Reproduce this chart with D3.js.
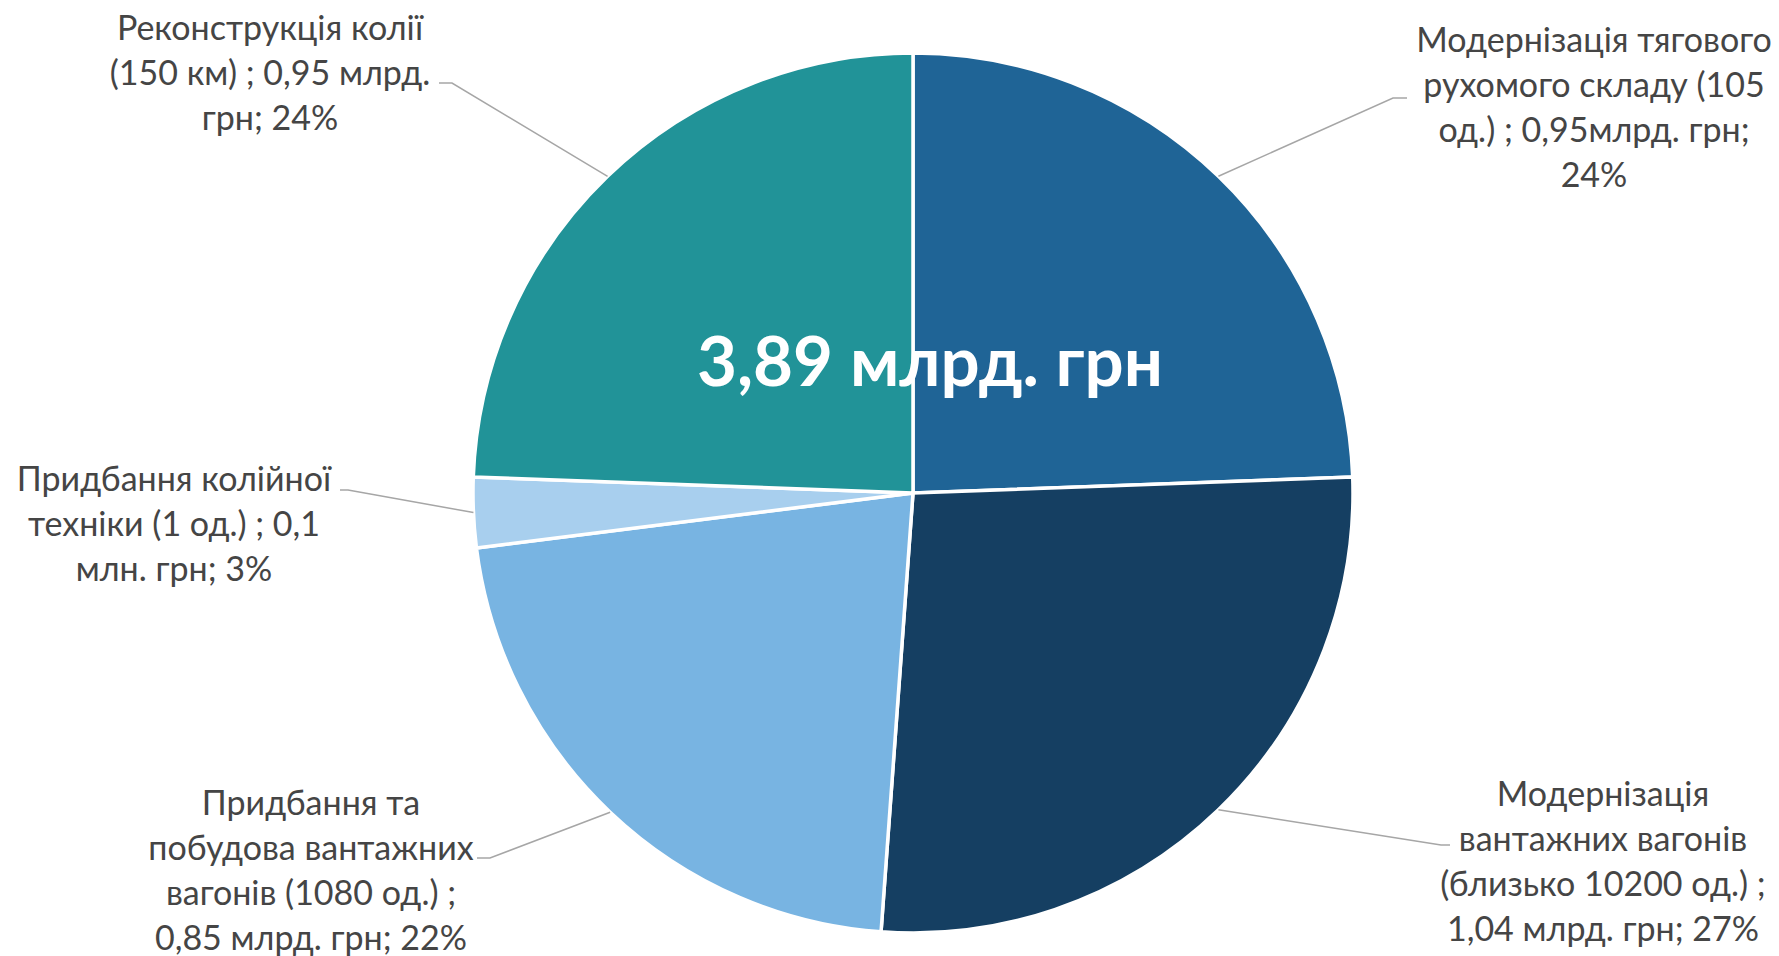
<!DOCTYPE html>
<html>
<head>
<meta charset="utf-8">
<script src="https://cdn.jsdelivr.net/npm/d3@7"></script>
<style>
  html, body { margin: 0; padding: 0; background: #ffffff; }
  svg { display: block; }
</style>
</head>
<body>
<svg id="chart" width="1779" height="956"></svg>
<script>
// ---- data ----
const categories = [
  "Модернізація тягового рухомого складу",
  "Модернізація вантажних вагонів",
  "Придбання та побудова вантажних вагонів",
  "Придбання колійної техніки",
  "Реконструкція колії"
];
const values = [0.95, 1.04, 0.85, 0.10, 0.95];
const labelLines = [
  ["Модернізація тягового", "рухомого складу (105", "од.) ; 0,95млрд. грн;", "24%"],
  ["Модернізація", "вантажних вагонів", "(близько 10200 од.) ;", "1,04 млрд. грн; 27%"],
  ["Придбання та", "побудова вантажних", "вагонів (1080 од.) ;", "0,85 млрд. грн; 22%"],
  ["Придбання колійної", "техніки (1 од.) ; 0,1", "млн. грн; 3%"],
  ["Реконструкція колії", "(150 км) ; 0,95 млрд.", "грн; 24%"]
];
const colors = ["#1F6496", "#153F62", "#78B4E2", "#A8CFEE", "#219398"];
const centerTitle = "3,89 млрд. грн";

// ---- layout ----
const W = 1779, H = 956;
const cx = 913, cy = 493, R = 440;
const fontFam = "Lato, 'Open Sans', sans-serif";
const lineH = 45;
// label text block: center x, first baseline y; leader elbow and end points
const labelLayout = [
  { x: 1594, y: 52,  elbow: [1393, 98],  end: [1407, 98] },
  { x: 1603, y: 806, elbow: [1441, 845], end: [1450, 845] },
  { x: 311,  y: 815, elbow: [490, 858],  end: [477, 858] },
  { x: 174,  y: 491, elbow: [348, 490],  end: [340, 490] },
  { x: 270,  y: 40,  elbow: [452, 83],   end: [439, 83] }
];

const svg = d3.select("#chart");
const g = svg.append("g").attr("transform", `translate(${cx},${cy})`);

const pie = d3.pie().sort(null).value(d => d).startAngle(0).endAngle(2 * Math.PI);
const arcs = pie(values);
const arc = d3.arc().innerRadius(0).outerRadius(R);

g.selectAll("path.slice")
  .data(arcs)
  .enter().append("path")
  .attr("class", "slice")
  .attr("d", arc)
  .attr("fill", (d, i) => colors[i])
  .attr("stroke", "#ffffff")
  .attr("stroke-width", 3.5)
  .attr("stroke-linejoin", "round");

// leader lines
svg.selectAll("polyline.leader")
  .data(arcs)
  .enter().append("polyline")
  .attr("class", "leader")
  .attr("fill", "none")
  .attr("stroke", "#A6A6A6")
  .attr("stroke-width", 1.5)
  .attr("points", (d, i) => {
    const a = (d.startAngle + d.endAngle) / 2;
    const p = [cx + R * Math.sin(a), cy - R * Math.cos(a)];
    const L = labelLayout[i];
    return [p, L.elbow, L.end].map(q => q.join(",")).join(" ");
  });

// labels
const labels = svg.selectAll("text.lbl")
  .data(labelLines)
  .enter().append("text")
  .attr("class", "lbl")
  .attr("text-anchor", "middle")
  .attr("font-family", fontFam)
  .attr("font-size", 34)
  .attr("fill", "#454545");
labels.each(function(lines, i) {
  const L = labelLayout[i];
  d3.select(this).selectAll("tspan")
    .data(lines)
    .enter().append("tspan")
    .attr("x", L.x)
    .attr("y", (t, j) => L.y + j * lineH)
    .text(t => t);
});

// center title
svg.append("text")
  .attr("x", cx + 17)
  .attr("y", cy - 107)
  .attr("text-anchor", "middle")
  .attr("font-family", fontFam)
  .attr("font-weight", "bold")
  .attr("font-size", 69)
  .attr("fill", "#ffffff")
  .text(centerTitle);
</script>
</body>
</html>
